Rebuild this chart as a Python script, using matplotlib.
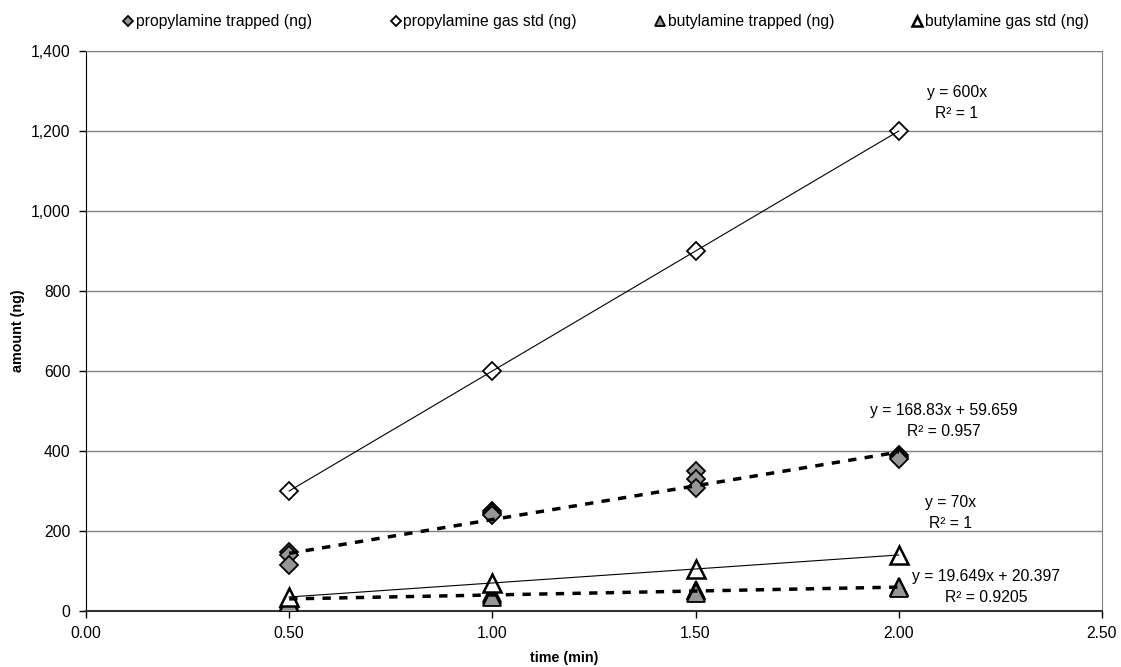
import numpy as np
import matplotlib
matplotlib.use("Agg")
import matplotlib.pyplot as plt

plt.rcParams['font.family'] = ['Liberation Sans', 'DejaVu Sans']

# time points (min), three replicates for trapped samples
time_min = [0.5, 1.0, 1.5, 2.0]
prop_trapped = [[148, 140, 115], [250, 245, 240], [350, 330, 308], [390, 385, 380]]
prop_gas_std = [300, 600, 900, 1200]
but_trapped = [[30, 24, 19], [45, 40, 36], [52, 49, 46], [60, 59, 58]]
but_gas_std = [35, 70, 105, 140]

# trendline coefficients (slope, intercept) and R^2 as shown in the chart
prop_trapped_fit = (168.83, 59.659, 0.957)
prop_gas_fit = (600, 0, 1)
but_trapped_fit = (19.649, 20.397, 0.9205)
but_gas_fit = (70, 0, 1)

# label positions for the trendline equations (data coords)
eq_pos = {
    'prop_gas': (2.143, 1271),
    'prop_trapped': (2.11, 476),
    'but_gas': (2.128, 244),
    'but_trapped': (2.215, 61),
}

gray = '#969696'
fs = 11.3

fig = plt.figure(figsize=(11.21, 6.67), dpi=100)
ax = fig.add_axes([0.0767, 0.084, 0.9063, 0.8395])

t = np.array(time_min)


def scatter_reps(x, reps, marker, ms, face, label):
    x_rep = np.repeat(x, len(reps[0]))
    y_rep = np.array(reps).ravel()
    ax.plot(x_rep, y_rep, ls='none', marker=marker, ms=ms, mfc=face, mec='k',
            mew=1.3, zorder=4, label=label)


scatter_reps(t, prop_trapped, 'D', 9, gray, 'propylamine trapped (ng)')
ax.plot(t, prop_gas_std, ls='none', marker='D', ms=9, mfc='white', mec='k',
        mew=1.3, zorder=4, label='propylamine gas std (ng)')
scatter_reps(t, but_trapped, '^', 13, gray, 'butylamine trapped (ng)')
ax.plot(t, but_gas_std, ls='none', marker='^', ms=13, mfc='white', mec='k',
        mew=1.8, zorder=4, label='butylamine gas std (ng)')

# trendlines
xs = np.array([t.min(), t.max()])
for fit, dashed in [(prop_trapped_fit, True), (prop_gas_fit, False),
                    (but_trapped_fit, True), (but_gas_fit, False)]:
    m, b, _ = fit
    if dashed:
        ax.plot(xs, m * xs + b, color='k', lw=2.5, dashes=(2.4, 2.4), zorder=5)
    else:
        ax.plot(xs, m * xs + b, color='k', lw=0.8, zorder=5)


def eq_text(fit):
    m, b, r2 = fit
    s = f"y = {m:g}x" if b == 0 else f"y = {m:g}x + {b:g}"
    return s + f"\nR² = {r2:g}"


for key, fit in [('prop_gas', prop_gas_fit), ('prop_trapped', prop_trapped_fit),
                 ('but_gas', but_gas_fit), ('but_trapped', but_trapped_fit)]:
    x0, y0 = eq_pos[key]
    ax.text(x0, y0, eq_text(fit), ha='center', va='center', fontsize=fs,
            linespacing=1.5, zorder=6)

ax.set_xlim(0, 2.5)
ax.set_ylim(0, 1400)
ax.set_xticks(np.arange(0, 2.51, 0.5))
ax.set_yticks(np.arange(0, 1401, 200))
ax.xaxis.set_major_formatter(matplotlib.ticker.FuncFormatter(lambda v, p: f"{v:.2f}"))
ax.yaxis.set_major_formatter(matplotlib.ticker.FuncFormatter(lambda v, p: f"{v:,.0f}"))
ax.tick_params(direction='out', length=5, width=1, labelsize=fs, pad=6)
ax.yaxis.grid(True, color='#808080', lw=1)
ax.set_axisbelow(True)

ax.spines['left'].set_color('k')
ax.spines['bottom'].set_color('#333333')
ax.spines['bottom'].set_linewidth(1.5)
ax.spines['right'].set_color('#808080')
ax.spines['top'].set_color('#808080')

ax.set_xlabel('time (min)', fontsize=10.3, fontweight='bold')
ax.set_ylabel('amount (ng)', fontsize=10.3, fontweight='bold')
ax.xaxis.set_label_coords(0.471, -0.072)
ax.yaxis.set_label_coords(-0.060, 0.5)

fig.legend(loc='upper center', bbox_to_anchor=(0.541, 1.0), ncol=4, frameon=False,
           fontsize=fs, markerscale=0.55, handlelength=0.6, handletextpad=0.2,
           columnspacing=5.0)

fig.savefig('out.png', dpi=100)
